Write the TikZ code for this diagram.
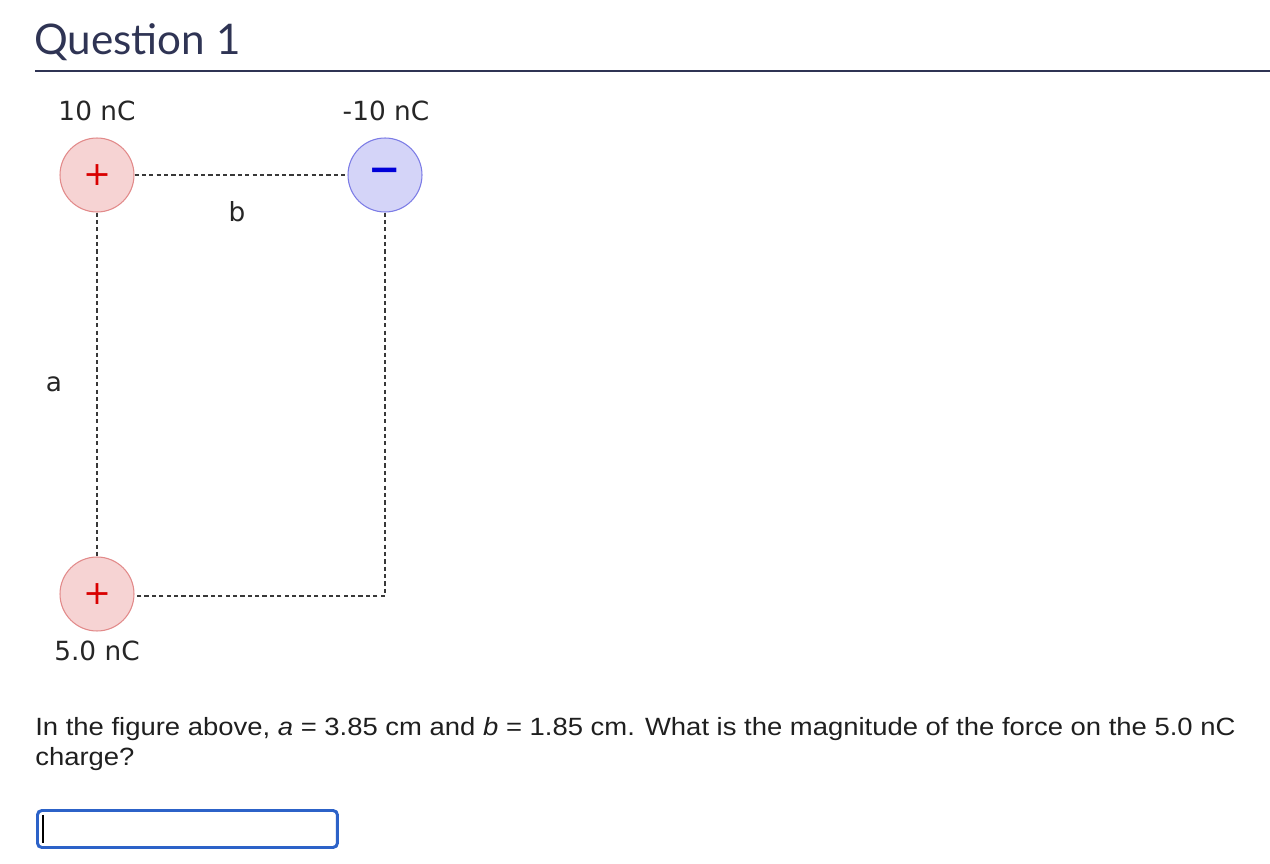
\documentclass[tikz,border=0pt]{standalone}
\usepackage{xcolor}
\usepackage{fontspec}
\setmainfont{Liberation Sans}
\newfontfamily\labelfont{DejaVu Sans}
\newfontfamily\titlefont{Lato}
\usetikzlibrary{positioning,calc}

\definecolor{titlenavy}{HTML}{2F3454}
\definecolor{posfill}{HTML}{F6D3D3}
\definecolor{posline}{HTML}{E28A8A}
\definecolor{negfill}{HTML}{D4D4F8}
\definecolor{negline}{HTML}{7C7CE6}
\definecolor{boxblue}{HTML}{2C62C8}

\begin{document}
\begin{tikzpicture}[
    x=0.02cm, y=-0.02cm,
    poscharge/.style={circle, draw=posline, fill=posfill, line width=0.6pt, minimum size=1.48cm, inner sep=0pt, text=red!85!black, font=\labelfont\fontsize{19}{19}\selectfont},
    negcharge/.style={circle, draw=negline, fill=negfill, line width=0.6pt, minimum size=1.48cm, inner sep=0pt, text=blue!85!black, font=\labelfont\fontsize{22}{22}\selectfont},
    chargelabel/.style={text=black!85, font=\labelfont\fontsize{15}{15}\selectfont, inner sep=0pt},
    link/.style={draw=black!78, line width=1.2pt, dash pattern=on 2.4pt off 1.8pt}
]
\useasboundingbox (0,0) rectangle (1270,864);

% Heading
\node[anchor=base west, inner sep=0pt, text=titlenavy, font=\titlefont\fontsize{24}{24}\selectfont] (title) at (34,55) {Question 1};
\draw[titlenavy, line width=1.2pt] (35,71) -- (1270,71);

% Charges
\node[poscharge] (qtop) at (97,175) {+};
\node[negcharge] (qneg) at (385,175) {\textbf{−}};
\node[poscharge] (qbot) at (97,594) {+};
\coordinate (corner) at (385,596);

% Charge labels
\node[chargelabel] (ltop) at (97,111) {10 nC};
\node[chargelabel] (lneg) at (386,111) {-10 nC};
\node[chargelabel] (lbot) at (97,651) {5.0 nC};

% Distances
\draw[link] (qtop.east) -- (qneg.west);
\draw[link] (qtop.south) -- (qbot.north);
\draw[link] (qneg.south) -- (corner) -- (qbot.east |- corner);
\node[chargelabel] (lb) at (237,212) {b};
\node[chargelabel] (la) at (54,384) {a};

% Question text
\node[anchor=base west, align=left, inner sep=0pt, text=black!88, font=\addfontfeature{FakeStretch=1.1}\fontsize{14.2}{16.6}\selectfont] (question) at (35,765)
  {In the figure above, \textit{a} = 3.85 cm and \textit{b} = 1.85 cm. What is the magnitude of the force on the 5.0 nC\\charge?};

% Answer box
\node[draw=boxblue, line width=1.7pt, rounded corners=2.5pt, minimum width=6.0cm, minimum height=0.74cm, anchor=north west] (answer) at (36,809) {};
\draw[black, line width=0.6pt] ($(answer.west)+(7,-14)$) -- ($(answer.west)+(7,14)$);

\end{tikzpicture}
\end{document}
